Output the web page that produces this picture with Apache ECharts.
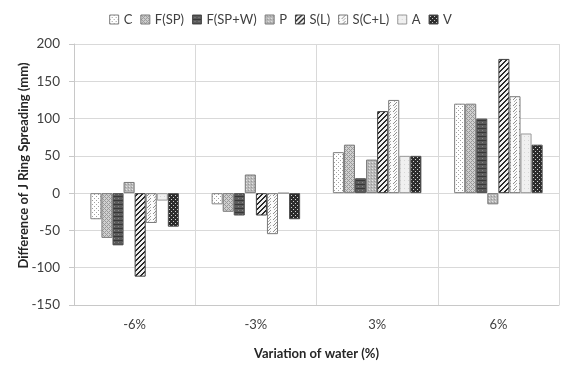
<!DOCTYPE html>
<html><head><meta charset="utf-8">
<script src="https://cdn.jsdelivr.net/npm/echarts@6/dist/echarts.min.js"></script>
<style>html,body{margin:0;padding:0;background:#fff}#c{width:561px;height:365px}</style>
</head><body><div id="c"></div>
<script>
const categories = ['-6%', '-3%', '3%', '6%'];
const seriesNames = ['C', 'F(SP)', 'F(SP+W)', 'P', 'S(L)', 'S(C+L)', 'A', 'V'];
const valC    = [-35, -15, 55, 120];
const valFSP  = [-60, -25, 65, 120];
const valFSPW = [-70, -30, 20, 100];
const valP    = [15, 25, 45, -15];
const valSL   = [-112, -30, 110, 180];
const valSCL  = [-40, -55, 125, 130];
const valA    = [-10, 0, 50, 80];
const valV    = [-45, -35, 50, 65];
const yTicks = { min: -150, max: 200, interval: 50 };

function pat(size, bg, fn) {
  const c = document.createElement('canvas');
  c.width = c.height = size;
  const g = c.getContext('2d');
  g.fillStyle = bg; g.fillRect(0, 0, size, size);
  for (let x = 0; x < size; x++) for (let y = 0; y < size; y++) {
    const col = fn(x, y);
    if (col) { g.fillStyle = col; g.fillRect(x, y, 1, 1); }
  }
  return { image: c, repeat: 'repeat' };
}
const patterns = [
  pat(4, '#ffffff', (x, y) => ((x == 0 && y == 0) || (x == 2 && y == 2)) ? '#a0a0a0' : null),
  pat(4, '#d0d0d0', (x, y) => ((x + y) % 4 == 0 || (x - y + 4) % 4 == 0) ? '#999999' : null),
  pat(4, '#5a5a5a', (x, y) => y == 0 ? '#383838' : ((x == 2 && y == 2) ? '#888888' : null)),
  pat(3, '#bababa', (x, y) => (x == 0 && y == 0) ? '#e4e4e4' : ((x == 2 && y == 1) ? '#999' : null)),
  pat(5, '#f0f0f0', (x, y) => ((x + y) % 5 < 2) ? '#2a2a2a' : null),
  pat(6, '#fbfbfb', (x, y) => ((x + y) % 6 == 0 && y % 6 < 4) ? '#8c8c8c' : (((x + y) % 6 == 3 && y % 6 >= 3) ? '#b0b0b0' : null)),
  pat(4, '#f0f0f0', (x, y) => (x == 0 && y == 0) ? '#d6d6d6' : null),
  pat(4, '#2c2c2c', (x, y) => ((x == 1 && y == 1) || (x == 3 && y == 3)) ? '#d0d0d0' : null)
];
const borders = ['#808080', '#7a7a7a', '#505050', '#7a7a7a', '#404040', '#7a7a7a', '#9a9a9a', '#505050'];
const allVals = [valC, valFSP, valFSPW, valP, valSL, valSCL, valA, valV];
const FONT = 'Lato';

const chart = echarts.init(document.getElementById('c'), null, { renderer: 'canvas' });
chart.setOption({
  animation: false,
  textStyle: { fontFamily: FONT },
  legend: {
    top: 8, left: 'center', icon: 'rect',
    itemWidth: 9, itemHeight: 9, itemGap: 8,
    textStyle: { fontFamily: FONT, fontSize: 13, color: '#404040' },
    data: seriesNames.map((n, i) => ({ name: n, icon: 'rect', itemStyle: { color: patterns[i], borderColor: borders[i], borderWidth: 1 } }))
  },
  grid: { left: 74, right: 2, top: 44, bottom: 51, containLabel: false },
  xAxis: {
    type: 'category', data: categories,
    name: 'Variation of water (%)', nameLocation: 'middle', nameGap: 42, nameMoveOverlap: false,
    nameTextStyle: { fontFamily: FONT, fontSize: 13, fontWeight: 'bold', color: '#262626' },
    axisLine: { onZero: false, lineStyle: { color: '#c8c8c8' } },
    axisTick: { show: false },
    axisLabel: { fontSize: 13, color: '#404040', margin: 13, fontFamily: FONT },
    splitLine: { show: true, lineStyle: { color: '#d9d9d9' } }
  },
  yAxis: {
    type: 'value', min: yTicks.min, max: yTicks.max, interval: yTicks.interval,
    name: 'Difference of J Ring Spreading (mm)', nameLocation: 'middle', nameGap: 44, nameMoveOverlap: false,
    nameTextStyle: { fontFamily: FONT, fontSize: 13, fontWeight: 'bold', color: '#262626', padding: [0, 0, 0, 18] },
    axisLine: { show: true, lineStyle: { color: '#c8c8c8' } },
    axisTick: { show: true, length: 5, lineStyle: { color: '#c8c8c8' } },
    axisLabel: { fontSize: 13.5, color: '#404040', margin: 14, fontFamily: FONT },
    splitLine: { show: true, lineStyle: { color: '#d9d9d9' } }
  },
  series: seriesNames.map((n, i) => ({
    name: n, type: 'bar', data: allVals[i],
    barGap: '0%', barCategoryGap: '27%',
    itemStyle: { color: patterns[i], borderColor: borders[i], borderWidth: 1 }
  }))
});
</script></body></html>
